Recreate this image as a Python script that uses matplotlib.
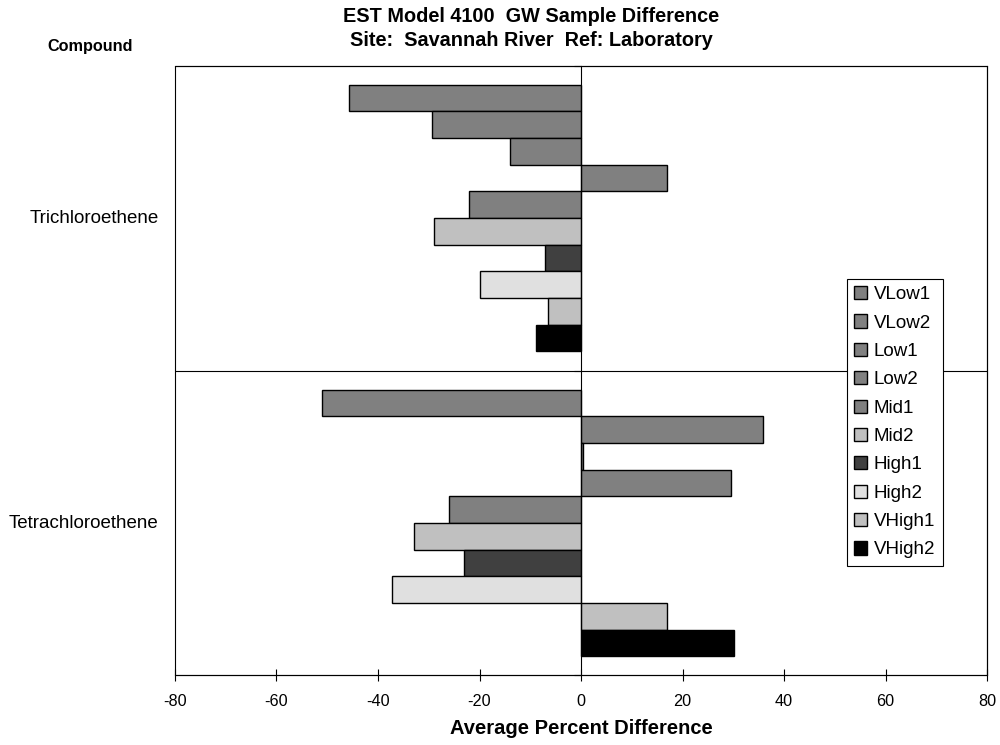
import numpy as np
import matplotlib
matplotlib.use("Agg")
from matplotlib import pyplot as plt
from matplotlib.patches import Rectangle
from matplotlib.transforms import blended_transform_factory

plt.rcParams['font.family'] = ['Liberation Sans', 'DejaVu Sans']
plt.rcParams['axes.unicode_minus'] = False

# categories, top to bottom
compounds = ["Trichloroethene", "Tetrachloroethene"]
series = ["VLow1", "VLow2", "Low1", "Low2", "Mid1", "Mid2",
          "High1", "High2", "VHigh1", "VHigh2"]

# average percent difference per series, one value per compound
tri_vals = [-45.8, -29.3, -14.0, 17.0, -22.1, -29.0, -7.1, -19.9, -6.5, -8.8]
tetra_vals = [-51.0, 35.9, 0.3, 29.5, -26.0, -32.9, -23.0, -37.2, 17.0, 30.2]

colors = ["#808080", "#808080", "#808080", "#808080", "#808080",
          "#C0C0C0", "#404040", "#E0E0E0", "#C0C0C0", "#000000"]

fig = plt.figure(figsize=(10, 7.45), dpi=100)
ax = fig.add_axes([0.175, 0.0933, 0.812, 0.8186])

# category centres: Trichloroethene on top
cat_pos = np.array([1, 0])
bar_h = 0.0874

for i, name in enumerate(series):
    vals = [tri_vals[i], tetra_vals[i]]
    ax.barh(cat_pos + (4.5 - i) * bar_h, vals, height=bar_h,
            color=colors[i], edgecolor="black", linewidth=1.0,
            label=name, zorder=3)

ax.set_xlim(-80, 80)
ax.set_ylim(-0.5, 1.5)
ax.set_xticks(np.arange(-80, 81, 20))
ax.tick_params(axis="x", direction="inout", length=9, width=0.8,
               labelsize=11.7, pad=9)

# category axis sits at x = 0, with ticks at the category boundaries
ax.spines["left"].set_position(("data", 0))
ax.spines["left"].set_zorder(4)
ax.set_yticks([-0.5, 0.5, 1.5])
ax.set_yticklabels([])
ax.tick_params(axis="y", direction="out", length=5, width=0.8)
for s in ["top", "right", "bottom"]:
    ax.spines[s].set_linewidth(0.8)

# frame and the divider between the compounds
ax.add_patch(Rectangle((0, 0), 1, 1, transform=ax.transAxes, fill=False,
                       edgecolor="black", linewidth=0.8, zorder=5,
                       clip_on=False))
ax.axhline(0.5, color="black", linewidth=0.8, zorder=2)

trans = blended_transform_factory(ax.transAxes, ax.transData)
for c, name in zip(cat_pos, compounds):
    ax.text(-0.02, c, name, transform=trans, ha="right", va="center",
            fontsize=13.5)

ax.set_xlabel("Average Percent Difference", fontsize=14.5, fontweight="bold",
              labelpad=7)

fig.text(0.531, 1 - 17 / 745, "EST Model 4100  GW Sample Difference",
         ha="center", va="center", fontsize=14.3, fontweight="bold")
fig.text(0.531, 1 - 40 / 745, "Site:  Savannah River  Ref: Laboratory",
         ha="center", va="center", fontsize=14.3, fontweight="bold")
fig.text(0.09, 1 - 47 / 745, "Compound", ha="center", va="center",
         fontsize=11.7, fontweight="bold")

leg = ax.legend(loc="upper left", bbox_to_anchor=(0.8467, 1 - 278.5 / 745),
                bbox_transform=fig.transFigure, fontsize=13.5,
                frameon=True, fancybox=False, framealpha=1,
                edgecolor="black", handlelength=0.7, handleheight=0.7,
                handletextpad=0.35, labelspacing=0.6, borderpad=0.4,
                borderaxespad=0)
leg.get_frame().set_linewidth(0.8)
leg.set_zorder(6)

fig.savefig("out.png", dpi=100)
